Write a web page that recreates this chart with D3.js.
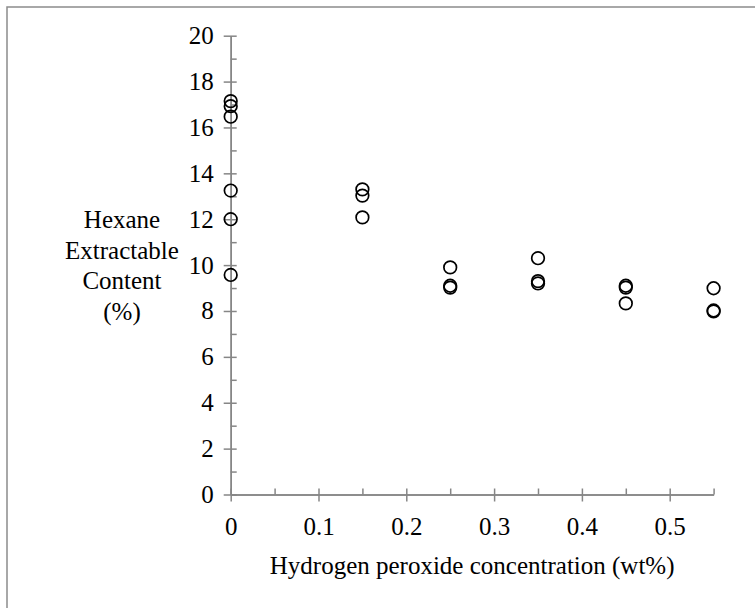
<!DOCTYPE html>
<html>
<head>
<meta charset="utf-8">
<script src="https://cdn.jsdelivr.net/npm/d3@7"></script>
<style>
  body { margin: 0; background: #fff; }
</style>
</head>
<body>
<div id="chart"></div>
<script>
// hydrogen peroxide concentration (wt%) of each sample
const concentration = [0, 0, 0, 0, 0, 0,
    0.15, 0.15, 0.15,
    0.25, 0.25, 0.25,
    0.35, 0.35, 0.35,
    0.45, 0.45, 0.45,
    0.55, 0.55, 0.55]
// hexane extractable content (%)
const hexaneContent = [17.15, 16.93, 16.47, 13.25, 12.0, 9.57,
    13.3, 13.03, 12.08,
    9.9, 9.1, 9.02,
    10.3, 9.3, 9.2,
    9.1, 9.02, 8.33,
    8.99, 8.02, 7.98]

const xMajorTicks = [0, 0.1, 0.2, 0.3, 0.4, 0.5]
const xMinorTicks = [0.05, 0.15, 0.25, 0.35, 0.45, 0.55]
const yMajorTicks = [0, 2, 4, 6, 8, 10, 12, 14, 16, 18, 20]
const yMinorTicks = [1, 3, 5, 7, 9, 11, 13, 15, 17, 19]
const yTitleLines = ["Hexane", "Extractable", "Content", "(%)"]
const xTitle = "Hydrogen peroxide concentration (wt%)"

let width = 755
let height = 608
let fontSize = 25
let serif = "'Liberation Serif', 'Times New Roman', Times, serif"
let axisColor = "#868686"

let svg = d3.select("#chart").append("svg")
    .attr("width", width)
    .attr("height", height)
    .attr("font-family", serif)

// chart frame (runs off the right and bottom edges)
svg.append("rect")
    .attr("x", 7).attr("y", 7)
    .attr("width", 800).attr("height", 700)
    .attr("fill", "none")
    .attr("stroke", "#8c8c8c")
    .attr("stroke-width", 1.5)

let x = d3.scaleLinear().domain([0, 0.55]).range([230.7, 713.6])
let y = d3.scaleLinear().domain([0, 20]).range([494.5, 35.7])

// x axis
let gx = svg.append("g")
    .attr("transform", `translate(0,${y(0)})`)
gx.append("g")
    .call(d3.axisBottom(x).tickValues(xMinorTicks).tickSize(-6).tickFormat("").tickSizeOuter(0))
gx.append("g")
    .call(d3.axisBottom(x).tickValues(xMajorTicks).tickSizeInner(7).tickPadding(16)
        .tickSizeOuter(0).tickFormat(d => String(d)))
    .call(g => g.selectAll(".tick line").attr("y1", -6).attr("y2", 7))
gx.selectAll("g").attr("font-family", serif)
gx.selectAll(".domain, .tick line").attr("stroke", axisColor).attr("stroke-width", 1.5)
gx.selectAll(".tick text").attr("font-size", fontSize).attr("fill", "#000")

// y axis
let gy = svg.append("g")
    .attr("transform", `translate(${x(0)},0)`)
gy.append("g")
    .call(d3.axisLeft(y).tickValues(yMinorTicks).tickSize(-6).tickFormat("").tickSizeOuter(0))
gy.append("g")
    .call(d3.axisLeft(y).tickValues(yMajorTicks).tickSizeInner(7).tickPadding(10)
        .tickSizeOuter(0))
    .call(g => g.selectAll(".tick line").attr("x1", 6).attr("x2", -7))
gy.selectAll("g").attr("font-family", serif)
gy.selectAll(".domain, .tick line").attr("stroke", axisColor).attr("stroke-width", 1.5)
gy.selectAll(".tick text").attr("font-size", fontSize).attr("fill", "#000")

// points
svg.append("g")
    .selectAll("circle")
    .data(concentration.map((c, i) => [c, hexaneContent[i]]))
    .join("circle")
    .attr("cx", d => x(d[0]))
    .attr("cy", d => y(d[1]))
    .attr("r", 6.3)
    .attr("fill", "none")
    .attr("stroke", "#000")
    .attr("stroke-width", 1.7)

// axis titles
svg.append("g")
    .selectAll("text")
    .data(yTitleLines)
    .join("text")
    .attr("x", 122)
    .attr("y", (d, i) => 228 + i * 30.5)
    .attr("text-anchor", "middle")
    .attr("font-size", fontSize)
    .text(d => d)

svg.append("text")
    .attr("x", (x(0) + x(0.55)) / 2)
    .attr("y", 574)
    .attr("text-anchor", "middle")
    .attr("font-size", fontSize)
    .text(xTitle)
</script>
</body>
</html>
